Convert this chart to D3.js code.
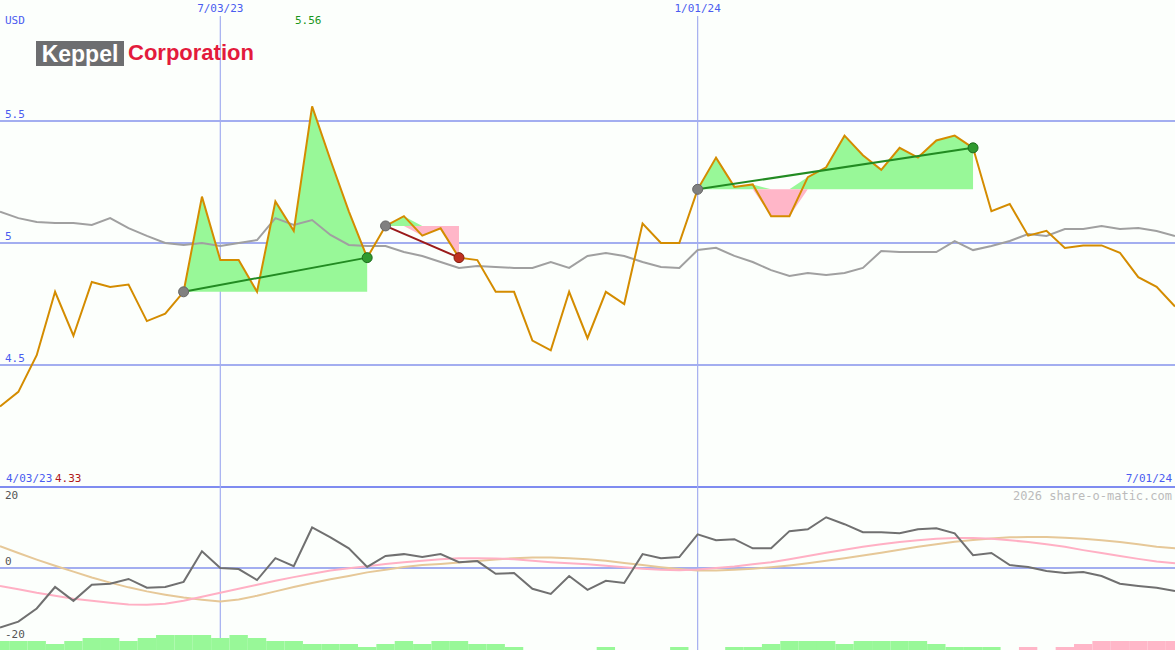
<!DOCTYPE html>
<html><head><meta charset="utf-8">
<script src="https://cdn.jsdelivr.net/npm/d3@7"></script>
<style>body{margin:0;background:#fcfffc}text{font-family:"DejaVu Sans Mono",monospace;font-size:11px}</style>
</head><body><div id="chart"></div>
<script>
var W = 1175, H = 650;

// weekly closes 4/03/23 .. 7/01/24
var price = [4.33,4.39,4.54,4.80,4.62,4.84,4.82,4.83,4.68,4.71,4.80,5.19,4.93,4.93,4.80,5.17,5.05,5.56,5.34,5.13,4.94,5.07,5.11,5.03,5.06,4.94,4.93,4.80,4.80,4.60,4.56,4.80,4.61,4.80,4.75,5.08,5.00,5.00,5.22,5.35,5.23,5.24,5.11,5.11,5.27,5.31,5.44,5.36,5.30,5.39,5.35,5.42,5.44,5.39,5.13,5.16,5.03,5.05,4.98,4.99,4.99,4.96,4.86,4.82,4.74];
var avgLine = [5.128,5.102,5.086,5.082,5.082,5.074,5.102,5.061,5.029,5.0,4.992,5.0,4.988,5.0,5.012,5.102,5.074,5.094,5.033,4.992,4.988,4.988,4.963,4.947,4.922,4.898,4.906,4.902,4.898,4.898,4.922,4.898,4.947,4.959,4.947,4.922,4.902,4.898,4.971,4.98,4.947,4.922,4.889,4.865,4.877,4.869,4.877,4.898,4.967,4.963,4.963,4.963,5.008,4.971,4.988,5.008,5.037,5.029,5.057,5.057,5.070,5.057,5.061,5.049,5.029];
var momentum = [-16.3,-14.7,-11.1,-5.2,-9.0,-4.6,-4.3,-3.0,-5.4,-5.2,-3.8,4.6,0,-0.3,-3.3,2.7,0.5,11.1,8.4,5.4,0.3,3.3,3.8,3.0,3.8,1.6,1.9,-1.6,-1.4,-5.7,-7.1,-2.2,-6.0,-3.5,-4.1,3.8,2.7,3.0,9.2,7.6,7.9,5.4,5.4,10.1,10.6,13.9,12.0,9.8,9.8,9.5,10.6,10.9,9.5,3.5,4.1,0.8,0.3,-0.8,-1.4,-1.1,-2.2,-4.3,-4.9,-5.4,-6.3];
var smoothA = [-4.9,-5.8,-6.8,-7.6,-8.4,-9.0,-9.5,-10.0,-10.1,-9.8,-9.0,-7.9,-6.8,-5.7,-4.6,-3.5,-2.5,-1.6,-0.7,-0.1,0.5,1.1,1.6,2.0,2.4,2.7,2.7,2.6,2.4,2.0,1.6,1.3,1.0,0.6,0.2,-0.2,-0.5,-0.6,-0.4,0,0.4,1.0,1.6,2.4,3.3,4.2,5.0,5.8,6.5,7.1,7.6,8.0,8.2,8.2,8.0,7.6,7.1,6.5,5.8,4.9,4.1,3.3,2.5,1.8,1.3];
var smoothB = [6.0,4.1,2.3,0.6,-1.0,-2.6,-4.0,-5.3,-6.4,-7.3,-8.1,-8.7,-9.2,-8.6,-7.6,-6.4,-5.2,-4.1,-3.1,-2.2,-1.2,-0.5,0.3,0.8,1.1,1.5,1.9,2.3,2.7,2.9,2.9,2.7,2.4,2.0,1.4,0.8,0.2,-0.3,-0.7,-0.7,-0.5,-0.2,0.2,0.7,1.3,2.0,2.7,3.4,4.2,5.0,5.8,6.5,7.2,7.7,8.1,8.4,8.5,8.5,8.3,8.0,7.6,7.1,6.5,5.8,5.4];
var volBars = [3,3,3,2,3,4,4,3,4,5,5,5,4,5,4,3,3,2,2,2,1,2,3,2,3,3,2,2,1,0,0,0,0,1,0,0,0,1,0,0,1,1,2,3,3,3,2,3,3,3,3,2,1,1,1,0,-1,0,-1,-2,-3,-3,-3,-3,-3];
var trades = [{from:10,to:20,win:true},{from:21,to:25,win:false},{from:38,to:53,win:true}];
var dateTicks = [{i:12,label:"7/03/23"},{i:38,label:"1/01/24"}];
var priceTicks = [4.5,5,5.5];

var blue = "#a3aef0", textBlue = "#4a5cf0", lineCol = "#d48c00";
var svg = d3.select("#chart").append("svg").attr("width", W).attr("height", H)
  .style("background", "#fcfffc");

var x = d3.scaleLinear().domain([0, price.length - 1]).range([0, W]);
var y = d3.scaleLinear().domain([5, 5.5]).range([243, 121]);
var ym = d3.scaleLinear().domain([0, 20]).range([568, 495]);
var yb = d3.scaleLinear().domain([0, 5]).range([650, 635]);

// grid
priceTicks.forEach(function (p) {
  svg.append("line").attr("x1", 0).attr("x2", W).attr("y1", y(p)).attr("y2", y(p))
    .attr("stroke", blue).attr("stroke-width", 2);
  svg.append("text").attr("x", 5).attr("y", y(p) - 3).attr("fill", textBlue).text(p);
});
svg.append("line").attr("x1", 0).attr("x2", W).attr("y1", ym(0)).attr("y2", ym(0))
  .attr("stroke", blue).attr("stroke-width", 2);
svg.append("line").attr("x1", 0).attr("x2", W).attr("y1", 487).attr("y2", 487)
  .attr("stroke", "#7f8cf0").attr("stroke-width", 2);
dateTicks.forEach(function (t) {
  svg.append("line").attr("x1", x(t.i)).attr("x2", x(t.i)).attr("y1", 16).attr("y2", H)
    .attr("stroke", blue).attr("stroke-width", 1.2);
  svg.append("text").attr("x", x(t.i)).attr("y", 12).attr("text-anchor", "middle")
    .attr("fill", textBlue).text(t.label);
});

// logo
svg.append("rect").attr("x", 36).attr("y", 41).attr("width", 88).attr("height", 25).attr("fill", "#6d6e70");
svg.append("text").attr("x", 80).attr("y", 62).attr("text-anchor", "middle").attr("fill", "#fff")
  .style("font-family", "Liberation Sans, Arial").style("font-weight", "bold").style("font-size", "23px").text("Keppel");
svg.append("text").attr("x", 128).attr("y", 60)
  .attr("fill", "#e31b3c").style("font-family", "Liberation Sans, Arial").style("font-weight", "bold")
  .style("font-size", "22px").text("Corporation");

// trade fills
trades.forEach(function (t) {
  var seg = d3.range(t.from, t.to + 1), base = y(price[t.from]);
  svg.append("path").datum(seg).attr("fill", "#98f898")
    .attr("d", d3.area().x(function (i) { return x(i); }).y0(base)
      .y1(function (i) { return Math.min(y(price[i]), base); }));
  svg.append("path").datum(seg).attr("fill", "#ffb6c8")
    .attr("d", d3.area().x(function (i) { return x(i); }).y0(base)
      .y1(function (i) { return Math.max(y(price[i]), base); }));
});

// average + price
var idx = d3.range(price.length);
svg.append("path").datum(idx).attr("fill", "none").attr("stroke", "#a0a0a0").attr("stroke-width", 2)
  .attr("d", d3.line().x(function (i) { return x(i); }).y(function (i) { return y(avgLine[i]); }));
svg.append("path").datum(idx).attr("fill", "none").attr("stroke", lineCol).attr("stroke-width", 2)
  .attr("d", d3.line().x(function (i) { return x(i); }).y(function (i) { return y(price[i]); }));

trades.forEach(function (t) {
  svg.append("line").attr("x1", x(t.from)).attr("y1", y(price[t.from]))
    .attr("x2", x(t.to)).attr("y2", y(price[t.to]))
    .attr("stroke", t.win ? "#228b22" : "#9a1a1a").attr("stroke-width", 2);
  svg.append("circle").attr("cx", x(t.from)).attr("cy", y(price[t.from])).attr("r", 5)
    .attr("fill", "#808080").attr("stroke", "#666");
  svg.append("circle").attr("cx", x(t.to)).attr("cy", y(price[t.to])).attr("r", 5)
    .attr("fill", t.win ? "#2f9a2f" : "#c03020").attr("stroke", t.win ? "#1d6b1d" : "#802010");
});

// labels
svg.append("text").attr("x", 5).attr("y", 24).attr("fill", textBlue).text("USD");
svg.append("text").attr("x", 295).attr("y", 24).attr("fill", "#1a961a").text(d3.max(price).toFixed(2));
svg.append("text").attr("x", 6).attr("y", 482).attr("fill", textBlue).text("4/03/23");
svg.append("text").attr("x", 55).attr("y", 482).attr("fill", "#b01818").text(d3.min(price).toFixed(2));
svg.append("text").attr("x", W - 3).attr("y", 482).attr("text-anchor", "end").attr("fill", textBlue).text("7/01/24");
svg.append("text").attr("x", W - 3).attr("y", 500).attr("text-anchor", "end").attr("fill", "#bbbbbb")
  .style("font-size", "12px").text("2026 share-o-matic.com");

// lower panel
var bw = x(1) - x(0);
svg.selectAll(".vb").data(idx).enter().append("rect")
  .attr("x", function (i) { return x(i) - bw / 2; }).attr("width", bw)
  .attr("y", function (i) { return yb(Math.abs(volBars[i])); })
  .attr("height", function (i) { return 650 - yb(Math.abs(volBars[i])); })
  .attr("fill", function (i) { return volBars[i] < 0 ? "#ffb6c8" : "#98f898"; });
[[smoothB, "#e6c898"], [smoothA, "#ffb0c4"], [momentum, "#707070"]].forEach(function (s) {
  svg.append("path").datum(idx).attr("fill", "none").attr("stroke", s[1]).attr("stroke-width", 2)
    .attr("d", d3.line().x(function (i) { return x(i); }).y(function (i) { return ym(s[0][i]); }));
});
[20, 0, -20].forEach(function (v) {
  svg.append("text").attr("x", 5).attr("y", ym(v) + (v == 20 ? 4 : -3)).attr("fill", "#555").text(v);
});
</script></body></html>
